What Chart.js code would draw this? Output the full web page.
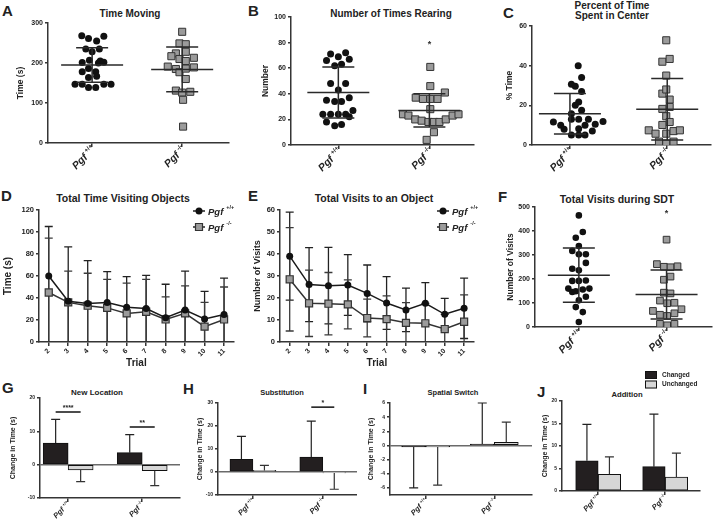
<!DOCTYPE html>
<html>
<head>
<meta charset="utf-8">
<script src="https://cdn.jsdelivr.net/npm/chart.js@4.4.0/dist/chart.umd.min.js"></script>
<style>
  body { margin: 0; background: #fff; width: 717px; height: 527px; position: relative; overflow: hidden;
         font-family: 'Liberation Sans', Arial, sans-serif; color: #222; }
  .box { position: absolute; }
  .lt { position: absolute; font-weight: bold; font-size: 15px; line-height: 15px; }
  .tt { position: absolute; font-weight: bold; transform: translate(-50%, -50%); white-space: nowrap; text-align: center; }
</style>
</head>
<body>
<div class="lt" style="left:2px;top:3px">A</div>
<div class="lt" style="left:248px;top:3px">B</div>
<div class="lt" style="left:503px;top:5px">C</div>
<div class="lt" style="left:1px;top:188px">D</div>
<div class="lt" style="left:248px;top:188px">E</div>
<div class="lt" style="left:498px;top:189px">F</div>
<div class="lt" style="left:2px;top:380px">G</div>
<div class="lt" style="left:183px;top:381px">H</div>
<div class="lt" style="left:363px;top:381px">I</div>
<div class="lt" style="left:537px;top:384px">J</div>

<div class="tt" style="left:130px;top:13px;font-size:10px">Time Moving</div>
<div class="tt" style="left:391px;top:13px;font-size:10px">Number of Times Rearing</div>
<div class="tt" style="left:612px;top:11px;font-size:10px;line-height:10px">Percent of Time<br>Spent in Center</div>
<div class="tt" style="left:123px;top:198px;font-size:10.5px">Total Time Visiting Objects</div>
<div class="tt" style="left:374px;top:198px;font-size:10.5px">Total Visits to an Object</div>
<div class="tt" style="left:617px;top:199px;font-size:10.5px">Total Visits during SDT</div>
<div class="tt" style="left:97px;top:392px;font-size:8px">New Location</div>
<div class="tt" style="left:282px;top:392px;font-size:7.5px">Substitution</div>
<div class="tt" style="left:453px;top:392px;font-size:7.5px">Spatial Switch</div>
<div class="tt" style="left:627px;top:394px;font-size:7.7px">Addition</div>

<script>
// genotypes (superscripts after italic "Pgf")
const genoSup = ['+/+', '-/-'];
const trials = ['2', '3', '4', '5', '6', '7', '8', '9', '10', '11'];
const barGroups = ['Changed', 'Unchanged'];

// A: time moving (s)
const aWt = [268, 261, 255, 267, 235, 235, 228, 201, 207, 200, 205, 202, 186, 178, 178, 164, 167, 147, 147, 139, 139, 147, 147];
const aWtJit = [-0.115, -0.04, 0.05, 0.13, -0.07, 0.08, 0, -0.11, -0.03, 0.07, 0.09, 0.13, -0.04, -0.11, 0.04, -0.04, 0.05, -0.19, -0.11, -0.04, 0.04, 0.13, 0.21];
const aKo = [278, 249, 247, 224, 217, 228, 210, 213, 205, 191, 185, 177, 186, 189, 160, 131, 126, 128, 108, 41];
const aKoJit = [0, -0.03, 0.04, -0.07, -0.12, 0.04, -0.03, 0.13, 0.04, -0.16, -0.07, -0.03, 0.04, 0.13, 0.04, -0.07, 0, 0.09, 0.01, 0.01];
const aMean = [195, 184], aSd = [43, 56];

// B: number of times rearing
const bWt = [71, 69, 72, 66, 62, 63, 67, 48, 48, 43, 35, 34, 34, 37, 24, 24, 24, 24, 27, 22, 18, 15, 16];
const bWtJit = [-0.085, 0, 0.08, -0.13, -0.04, 0.035, 0.12, -0.085, 0.08, 0, -0.13, -0.04, 0.035, 0.12, -0.17, -0.085, 0, 0.08, 0.16, 0.12, -0.13, -0.04, 0.035];
const bKo = [61, 46, 37, 36, 36, 36, 41, 28, 24, 23, 20, 19, 18, 18, 18, 20, 23, 24, 10, 4];
const bKoJit = [0.01, 0.01, -0.15, -0.07, 0.01, 0.09, 0.17, 0.01, -0.29, -0.23, -0.155, -0.085, -0.01, 0.05, 0.11, 0.18, 0.255, 0.32, 0.05, -0.03];
const bMean = [41, 27], bSd = [20, 13], bStar = 80;

// C: percent of time spent in center
const cWt = [40, 34, 30.6, 29.6, 27, 21.7, 20, 17.5, 15.8, 11.6, 10, 13, 13, 10.4, 11.8, 13, 8, 8.2, 10, 5, 5, 5, 7];
const cWtJit = [0.085, 0.12, 0.015, 0.055, 0.12, 0.09, 0.055, 0.12, 0.015, -0.17, -0.095, 0.09, 0.19, 0.26, 0.34, 0.015, -0.06, 0.09, 0.155, 0.015, 0.09, 0.155, 0.23];
const cKo = [52.8, 42, 43.4, 35, 25.9, 28, 22.9, 19.2, 18.2, 14.5, 11.6, 10.1, 7.4, 5.7, 5.7, 7, 7.4, 1.7, 0.7, 1.7];
const cKoJit = [-0.01, -0.05, 0.025, -0.01, -0.05, -0.01, 0.025, 0.025, -0.05, -0.01, 0.025, -0.05, -0.19, -0.12, -0.01, 0.065, 0.13, -0.085, -0.01, 0.065];
const cMean = [15.8, 18], cSd = [10.2, 15.5];

// D: total time visiting objects (mean, SD)
const dWtMean = [60, 37, 35, 36, 31.5, 30.5, 22, 29, 21, 25];
const dWtSd = [45, 49.5, 39, 28, 28, 30, 30.5, 35.5, 25, 33];
const dKoMean = [45, 36, 33, 31, 26, 27.5, 20.5, 26, 14, 20.5];
const dKoSd = [49.5, 28.5, 29.5, 26, 27.5, 29.5, 20.5, 25, 22, 29.5];

// E: total visits to an object (mean, SD)
const eWtMean = [39, 26.1, 25.6, 25.9, 22.1, 17.7, 14.6, 17.6, 12.6, 15.3];
const eWtSd = [20, 16.8, 17.4, 13.8, 12.9, 12, 9.9, 9.4, 7.2, 13.7];
const eKoMean = [28.5, 17.6, 17.4, 17.1, 10.9, 10.4, 8.7, 8.5, 5.9, 9.2];
const eKoSd = [23.5, 15.1, 14.2, 11.1, 8.6, 10.6, 9.2, 9, 6.7, 12.2];

// F: total visits during SDT
const fWt = [465, 396, 372, 337, 317, 303, 303, 267, 243, 236, 192, 192, 194, 160, 146, 149, 156, 160, 126, 111, 83, 62, 21];
const fWtJit = [0, 0.045, -0.035, 0, -0.075, 0, 0.08, 0.08, -0.075, 0, -0.075, 0, 0.08, -0.12, -0.075, -0.035, 0.045, 0.12, 0.08, 0, -0.035, 0.045, 0];
const fKo = [364, 262, 251, 249, 253, 210, 197, 143, 140, 110, 99, 101, 67, 51, 46, 57, 74, 13, 7, 13];
const fKoJit = [0, -0.11, -0.03, 0.045, 0.125, 0.045, -0.03, -0.03, 0.045, -0.075, 0.007, 0.09, -0.155, -0.075, 0.007, 0.09, 0.17, -0.075, 0.007, 0.09];
const fMean = [216, 135], fSd = [113, 102], fStar = 483;

// G-J: change in time (s), [Pgf+/+, Pgf-/-]
const gChanged = [6.5, 3.6], gChangedSd = [7.1, 5.4];
const gUnchanged = [-1.6, -1.8], gUnchangedSd = [3.5, 4.5];
const gSigText = ['****', '**'], gSigY = [15.8, 11.3];
const hChanged = [5.5, 6.5], hChangedSd = [10, 15.6];
const hUnchanged = [0.7, -0.4], hUnchangedSd = [2.2, 7.1];
const hSigText = [null, '*'], hSigY = [null, 28.2];
const iChanged = [-0.2, 0.2], iChangedSd = [5.8, 5.8];
const iUnchanged = [-0.2, 0.45], iUnchangedSd = [5.4, 2.85];
const jChanged = [6.7, 5.4], jChangedSd = [8.1, 11.7];
const jUnchanged = [3.7, 3.1], jUnchangedSd = [3.9, 5.3];

const FF = "'Liberation Sans', Arial, sans-serif";
const AX = '#353535';
Chart.defaults.font.family = FF;
Chart.defaults.font.weight = 'bold';
Chart.defaults.color = '#222';
Chart.defaults.animation = false;
Chart.defaults.plugins.legend.display = false;
Chart.defaults.plugins.tooltip.enabled = false;

// canvas boxes and fixed plot margins
const geo = {
  A: { l: 0, t: 0, w: 236, h: 185, yw: 48, pt: 23, pr: 7, xh: 42 },
  B: { l: 236, t: 0, w: 244, h: 185, yw: 55, pt: 17, pr: 1, xh: 40 },
  C: { l: 480, t: 0, w: 237, h: 185, yw: 52, pt: 26, pr: 4, xh: 40 },
  D: { l: 0, t: 185, w: 240, h: 185, yw: 39, pt: 25, pr: 1, xh: 28 },
  E: { l: 240, t: 185, w: 240, h: 185, yw: 40, pt: 25, pr: 1, xh: 28 },
  F: { l: 480, t: 185, w: 237, h: 185, yw: 55, pt: 22, pr: 1, xh: 43 },
  G: { l: 0, t: 370, w: 182, h: 157, yw: 40, pt: 28, pr: 2, xh: 29 },
  H: { l: 182, t: 370, w: 175, h: 157, yw: 36, pt: 33, pr: 0, xh: 32 },
  I: { l: 357, t: 370, w: 178, h: 157, yw: 33, pt: 33, pr: 3, xh: 32 },
  J: { l: 535, t: 365, w: 182, h: 162, yw: 27, pt: 36, pr: 17, xh: 36 }
};

function canvasFor(key) {
  const g = geo[key];
  const d = document.createElement('div');
  d.className = 'box';
  Object.assign(d.style, { left: g.l + 'px', top: g.t + 'px', width: g.w + 'px', height: g.h + 'px' });
  const c = document.createElement('canvas');
  c.width = g.w; c.height = g.h;
  c.style.width = g.w + 'px'; c.style.height = g.h + 'px';
  d.appendChild(c);
  document.body.appendChild(d);
  return c;
}

function yAxis(g, o) {
  return {
    min: o.min, max: o.max,
    afterBuildTicks: o.ticks ? s => { s.ticks = o.ticks.map(v => ({ value: v })); } : undefined,
    ticks: { stepSize: o.step, font: { size: o.fs, weight: 'bold' }, color: '#222', padding: 2 },
    grid: {
      drawOnChartArea: !!o.zero, tickLength: 3, lineWidth: 1.5, tickColor: AX,
      color: c => (c.tick && c.tick.value === 0) ? '#6a6a6a' : 'rgba(0,0,0,0)'
    },
    border: { color: AX, width: 1.5 },
    title: { display: true, text: o.title, color: '#222', font: { size: o.tfs, weight: 'bold' }, padding: { top: o.tpad, bottom: 0 } },
    afterFit: s => { s.width = g.yw; }
  };
}

function xLin(g, min, max) {
  return {
    type: 'linear', min, max, offset: false,
    afterBuildTicks: s => { s.ticks = [{ value: 1 }, { value: 2 }]; },
    ticks: { display: false },
    grid: { offset: false, drawOnChartArea: false, tickLength: 4, color: AX, tickColor: AX, lineWidth: 1.5 },
    border: { color: AX, width: 1.5 },
    afterFit: s => { s.height = g.xh; }
  };
}

function layoutOf(g) {
  return { padding: { top: g.pt, right: g.pr, left: 0, bottom: 0 } };
}

// rotated italic "Pgf" + superscript genotype under each group
const pgfPlugin = {
  id: 'pgf',
  afterDraw(chart, args, o) {
    const { ctx, scales: { x }, chartArea } = chart;
    genoSup.forEach((sup, i) => {
      const px = x.getPixelForValue(i + 1);
      ctx.save();
      ctx.translate(px + (o.dx || 0), chartArea.bottom + o.dy);
      ctx.rotate(-Math.PI / 4);
      ctx.fillStyle = '#222';
      ctx.textAlign = 'right';
      ctx.textBaseline = 'middle';
      ctx.font = `bold ${o.size * 0.58}px ${FF}`;
      const sw = ctx.measureText(sup).width;
      ctx.fillText(sup, 0, -o.size * 0.35);
      ctx.font = `italic bold ${o.size}px ${FF}`;
      ctx.fillText('Pgf', -sw - o.size * 0.25, 0);
      ctx.restore();
    });
  }
};

// mean and SD lines over scatter groups, plus optional significance star
const meanSdPlugin = {
  id: 'meanSd',
  afterDatasetsDraw(chart, args, o) {
    const { ctx, scales: { x, y } } = chart;
    ctx.save();
    ctx.strokeStyle = '#2a2a2a';
    ctx.lineWidth = 1.5;
    o.means.forEach((m, i) => {
      const cx = x.getPixelForValue(i + 1);
      const my = y.getPixelForValue(m);
      const hy = y.getPixelForValue(m + o.sds[i]);
      const ly = y.getPixelForValue(m - o.sds[i]);
      ctx.beginPath();
      ctx.moveTo(cx - 31, my); ctx.lineTo(cx + 31, my);
      ctx.moveTo(cx - 16, hy); ctx.lineTo(cx + 16, hy);
      ctx.moveTo(cx - 16, ly); ctx.lineTo(cx + 16, ly);
      ctx.moveTo(cx, hy); ctx.lineTo(cx, ly);
      ctx.stroke();
    });
    if (o.star != null) {
      ctx.fillStyle = '#333';
      ctx.font = `bold 9px ${FF}`;
      ctx.textAlign = 'center';
      ctx.textBaseline = 'middle';
      ctx.fillText('*', x.getPixelForValue(2), y.getPixelForValue(o.star) + 2);
    }
    ctx.restore();
  }
};

function drawMarker(ctx, i, x, y) {
  ctx.beginPath();
  if (i === 0) {
    ctx.arc(x, y, 3.5, 0, Math.PI * 2);
    ctx.fillStyle = '#111';
    ctx.fill();
  } else {
    ctx.rect(x - 3.5, y - 3.5, 7, 7);
    ctx.fillStyle = '#9b9b9b';
    ctx.fill();
    ctx.strokeStyle = '#333';
    ctx.lineWidth = 1.2;
    ctx.stroke();
  }
}

// SD bars for the line panels; with toAxis the lower arm runs down to the x axis
const lineErrPlugin = {
  id: 'lineErr',
  beforeDatasetsDraw(chart, args, o) {
    const { ctx, chartArea: a, scales: { x, y } } = chart;
    ctx.save();
    ctx.beginPath();
    ctx.rect(a.left, a.top - 20, a.right - a.left, a.bottom - a.top + 20);
    ctx.clip();
    chart.data.datasets.forEach(ds => {
      ctx.strokeStyle = ds.errColor;
      ctx.lineWidth = 1.3;
      ds.data.forEach((m, i) => {
        const px = x.getPixelForValue(i);
        const hi = y.getPixelForValue(m + ds.sd[i]);
        const lo = o.toAxis ? a.bottom : y.getPixelForValue(m - ds.sd[i]);
        ctx.beginPath();
        ctx.moveTo(px, hi); ctx.lineTo(px, lo);
        ctx.moveTo(px - 4, hi); ctx.lineTo(px + 4, hi);
        if (!o.toAxis) { ctx.moveTo(px - 4, lo); ctx.lineTo(px + 4, lo); }
        ctx.stroke();
      });
    });
    ctx.restore();
  }
};

const lineLegendPlugin = {
  id: 'lineLegend',
  afterDraw(chart, args, o) {
    const ctx = chart.ctx;
    genoSup.forEach((sup, i) => {
      const y = o.y + i * 16;
      ctx.save();
      ctx.strokeStyle = '#222';
      ctx.lineWidth = 1.5;
      ctx.beginPath(); ctx.moveTo(o.x, y); ctx.lineTo(o.x + 12, y); ctx.stroke();
      drawMarker(ctx, i, o.x + 6, y);
      ctx.fillStyle = '#222';
      ctx.textAlign = 'left';
      ctx.textBaseline = 'middle';
      ctx.font = `italic bold 9.5px ${FF}`;
      ctx.fillText('Pgf', o.x + 15, y + 1);
      const w = ctx.measureText('Pgf').width;
      ctx.font = `bold 5.5px ${FF}`;
      ctx.fillText(sup, o.x + 15 + w + 3, y - 4);
      ctx.restore();
    });
  }
};

// one-sided error bars on the bar panels, plus significance lines
const barErrPlugin = {
  id: 'barErr',
  afterDatasetsDraw(chart, args, o) {
    const { ctx, scales: { y } } = chart;
    ctx.save();
    chart.data.datasets.forEach((ds, di) => {
      const meta = chart.getDatasetMeta(di);
      ctx.strokeStyle = ds.errColor;
      ctx.lineWidth = 1.2;
      meta.data.forEach((bar, i) => {
        const v = ds.data[i].y;
        const tip = y.getPixelForValue(v >= 0 ? v + ds.sd[i] : v - ds.sd[i]);
        ctx.beginPath();
        ctx.moveTo(bar.x, bar.y); ctx.lineTo(bar.x, tip);
        ctx.moveTo(bar.x - 4.5, tip); ctx.lineTo(bar.x + 4.5, tip);
        ctx.stroke();
      });
    });
    if (o.sigText) {
      const m0 = chart.getDatasetMeta(0), m1 = chart.getDatasetMeta(1);
      o.sigText.forEach((t, i) => {
        if (!t) return;
        const py = y.getPixelForValue(o.sigY[i]);
        ctx.strokeStyle = '#111';
        ctx.lineWidth = 1.5;
        ctx.beginPath(); ctx.moveTo(m0.data[i].x, py); ctx.lineTo(m1.data[i].x, py); ctx.stroke();
        ctx.fillStyle = '#222';
        ctx.font = `bold 7px ${FF}`;
        ctx.textAlign = 'center';
        ctx.textBaseline = 'bottom';
        ctx.fillText(t, (m0.data[i].x + m1.data[i].x) / 2, py - 0.5);
      });
    }
    if (o.legend) {
      const fills = ['#231f20', '#d6d6d6'];
      barGroups.forEach((name, i) => {
        const yy = o.legend.y + i * 9.5;
        ctx.fillStyle = fills[i];
        ctx.fillRect(o.legend.x, yy, 12, 8);
        ctx.strokeStyle = '#111';
        ctx.lineWidth = 1;
        ctx.strokeRect(o.legend.x + 0.5, yy + 0.5, 11, 7);
        ctx.fillStyle = '#222';
        ctx.font = `bold 6.5px ${FF}`;
        ctx.textAlign = 'left';
        ctx.textBaseline = 'middle';
        ctx.fillText(name, o.legend.x + 17, yy + 4);
      });
    }
    ctx.restore();
  }
};

function scatterPanel(key, wt, wtJit, ko, koJit, means, sds, star, yo, xmin, xmax, pr) {
  const g = geo[key];
  new Chart(canvasFor(key), {
    type: 'scatter',
    data: {
      datasets: [
        { data: wt.map((v, i) => ({ x: 1 + wtJit[i], y: v })), pointStyle: 'circle', pointRadius: pr, pointHoverRadius: pr,
          backgroundColor: '#111', borderWidth: 0 },
        { data: ko.map((v, i) => ({ x: 2 + koJit[i], y: v })), pointStyle: 'rect', pointRadius: pr * 1.43, pointHoverRadius: pr * 1.43,
          backgroundColor: '#9b9b9b', borderColor: '#333', borderWidth: 1 }
      ]
    },
    options: {
      responsive: false,
      layout: layoutOf(g),
      scales: { x: xLin(g, xmin, xmax), y: yAxis(g, yo) },
      plugins: { pgf: { size: 10.5, dy: 5, dx: 2 }, meanSd: { means, sds, star } }
    },
    plugins: [pgfPlugin, meanSdPlugin]
  });
}

function linePanel(key, wtM, wtSd, koM, koSd, yo, leg, toAxis) {
  const g = geo[key];
  new Chart(canvasFor(key), {
    type: 'line',
    data: {
      labels: trials,
      datasets: [
        { data: wtM, sd: wtSd, errColor: '#222', borderColor: '#1a1a1a', borderWidth: 1.5, tension: 0,
          pointStyle: 'circle', pointRadius: 3.5, pointHoverRadius: 3.5, pointBackgroundColor: '#111', pointBorderWidth: 0 },
        { data: koM, sd: koSd, errColor: '#3a3a3a', borderColor: '#333', borderWidth: 1.5, tension: 0,
          pointStyle: 'rect', pointRadius: 5, pointHoverRadius: 5, pointBackgroundColor: '#9b9b9b',
          pointBorderColor: '#333', pointBorderWidth: 1.2 }
      ]
    },
    options: {
      responsive: false,
      layout: layoutOf(g),
      scales: {
        x: {
          type: 'category', offset: true,
          grid: { offset: false, drawOnChartArea: false, tickLength: 4, color: AX, tickColor: AX, lineWidth: 1.5 },
          border: { color: AX, width: 1.5 },
          ticks: { minRotation: 45, maxRotation: 45, font: { size: 7, weight: 'bold' }, color: '#222', padding: 1 },
          title: { display: true, text: 'Trial', color: '#222', font: { size: 10, weight: 'bold' }, padding: { top: 0, bottom: 1 } },
          afterFit: s => { s.height = g.xh; }
        },
        y: yAxis(g, yo)
      },
      plugins: { lineLegend: leg, lineErr: { toAxis } }
    },
    plugins: [lineErrPlugin, lineLegendPlugin]
  });
}

function barPanel(key, ch, chSd, un, unSd, yo, xmin, xmax, bw, extra) {
  const g = geo[key];
  new Chart(canvasFor(key), {
    type: 'bar',
    data: {
      datasets: [
        { label: barGroups[0], data: ch.map((v, i) => ({ x: i + 1, y: v })), sd: chSd, errColor: '#222',
          backgroundColor: '#231f20', borderColor: '#111', borderWidth: 1, borderSkipped: false, barThickness: bw },
        { label: barGroups[1], data: un.map((v, i) => ({ x: i + 1, y: v })), sd: unSd, errColor: '#333',
          backgroundColor: '#d6d6d6', borderColor: '#111', borderWidth: 1, borderSkipped: false, barThickness: bw }
      ]
    },
    options: {
      responsive: false,
      layout: layoutOf(g),
      scales: { x: xLin(g, xmin, xmax), y: yAxis(g, yo) },
      plugins: { pgf: { size: 7.5, dy: 5, dx: 1 }, barErr: extra || {} }
    },
    plugins: [pgfPlugin, barErrPlugin]
  });
}

scatterPanel('A', aWt, aWtJit, aKo, aKoJit, aMean, aSd, null,
  { min: 0, max: 300, step: 100, fs: 7, title: 'Time (s)', tfs: 8.5, tpad: 16 }, 0.51, 2.52, 3.5);
scatterPanel('B', bWt, bWtJit, bKo, bKoJit, bMean, bSd, bStar,
  { min: 0, max: 100, step: 20, fs: 7, title: 'Number', tfs: 8.5, tpad: 25 }, 0.48, 2.49, 3.5);
scatterPanel('C', cWt, cWtJit, cKo, cKoJit, cMean, cSd, null,
  { min: 0, max: 60, step: 20, fs: 7, title: '% Time', tfs: 8.5, tpad: 25 }, 0.61, 2.45, 3.5);
linePanel('D', dWtMean, dWtSd, dKoMean, dKoSd,
  { min: 0, max: 120, step: 20, fs: 7.5, title: 'Time (s)', tfs: 10, tpad: 2 }, { x: 193, y: 26 }, true);
linePanel('E', eWtMean, eWtSd, eKoMean, eKoSd,
  { min: 0, max: 60, step: 10, fs: 7.5, title: 'Number of Visits', tfs: 9, tpad: 12 }, { x: 197, y: 26 }, false);
scatterPanel('F', fWt, fWtJit, fKo, fKoJit, fMean, fSd, fStar,
  { min: 0, max: 500, step: 100, fs: 7, title: 'Number of Visits', tfs: 8.5, tpad: 26 }, 0.5, 2.51, 3.3);
barPanel('G', gChanged, gChangedSd, gUnchanged, gUnchangedSd,
  { min: -10, max: 20, step: 10, fs: 5, title: 'Change in Time (s)', tfs: 7, tpad: 9, zero: true }, 0.62, 2.51, 25,
  { sigText: gSigText, sigY: gSigY });
barPanel('H', hChanged, hChangedSd, hUnchanged, hUnchangedSd,
  { min: -10, max: 30, step: 10, fs: 5, title: 'Change in Time (s)', tfs: 7, tpad: 14, zero: true }, 0.5, 2.49, 23,
  { sigText: hSigText, sigY: hSigY });
barPanel('I', iChanged, iChangedSd, iUnchanged, iUnchangedSd,
  { min: -7, max: 6, ticks: [-6, -4, -2, 0, 2, 4, 6], fs: 5, title: 'Change in Time (s)', tfs: 7, tpad: 10, zero: true }, 0.48, 2.55, 24);
barPanel('J', jChanged, jChangedSd, jUnchanged, jUnchangedSd,
  { min: 0, max: 20, step: 5, fs: 5, title: 'Change in Time (s)', tfs: 7, tpad: 6 }, 0.46, 2.52, 22.5,
  { legend: { x: 110, y: 6 } });
</script>
</body>
</html>
